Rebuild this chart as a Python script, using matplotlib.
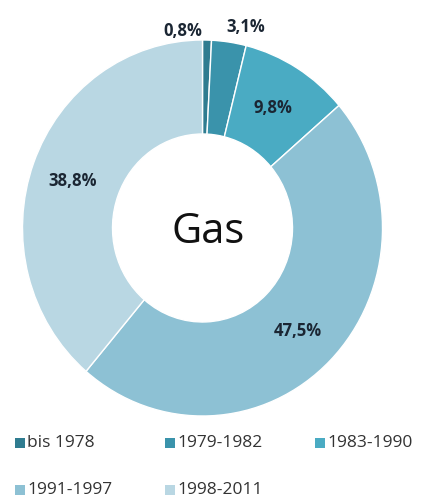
import matplotlib.pyplot as plt
from matplotlib.patches import Rectangle

# Anteile nach Baujahr (Gas)
zeitraeume = ['bis 1978', '1979-1982', '1983-1990', '1991-1997', '1998-2011']
anteile = [0.8, 3.1, 9.8, 47.5, 38.8]

farben = ['#2f7c90', '#3a93ab', '#4aabc3', '#8dc1d4', '#b9d7e3']
# Lage der Prozentzahlen (Datenkoordinaten)
label_pos = [(-0.11, 1.05), (0.24, 1.07), (0.39, 0.64), (0.53, -0.55), (-0.72, 0.25)]

fig = plt.figure(figsize=(4.27, 4.98), dpi=100)
W, H = 427.0, 498.0
ax = fig.add_axes([(202.5 - 180) / W, (H - 228 - 188) / H, 360 / W, 376 / H])

ax.pie(anteile, colors=farben, startangle=90, counterclock=False, radius=1,
       wedgeprops=dict(width=0.5, edgecolor='white', linewidth=1))
ax.set_aspect('auto')
ax.set_xlim(-1, 1)
ax.set_ylim(-1, 1)
ax.axis('off')

for v, (x, y) in zip(anteile, label_pos):
    ax.text(x, y, f'{v:.1f}%'.replace('.', ','), ha='center', va='center',
            fontsize=12, fontweight='bold', color='#1b2633', family='Open Sans')

ax.text(0.03, -0.02, 'Gas', ha='center', va='center', fontsize=30,
        color='#111111', family='Open Sans')

# Legende
for i, (lab, col) in enumerate(zip(zeitraeume, farben)):
    r, c = divmod(i, 3)
    x0 = 15 + c * 150
    yc = 443 + r * 47
    fig.patches.append(Rectangle((x0 / W, (H - yc - 5) / H), 10 / W, 10 / H,
                                 transform=fig.transFigure, facecolor=col,
                                 edgecolor='none'))
    fig.text((x0 + 12) / W, (H - yc) / H, lab, ha='left', va='center',
             fontsize=12.5, color='#333333', family='Open Sans')

fig.savefig('out.png', dpi=100)
